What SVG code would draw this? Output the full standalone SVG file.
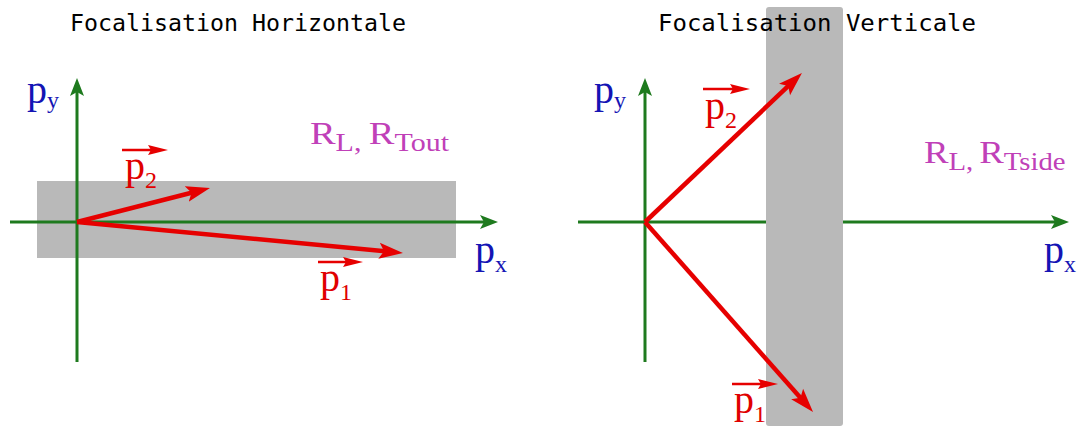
<svg xmlns="http://www.w3.org/2000/svg" width="1081" height="428" viewBox="0 0 1081 428">
  <defs>
    <style>
      .title { font-family: "DejaVu Sans Mono", "Liberation Mono", monospace; font-size: 23px; fill: #000; }
      .band { fill: #b9b9b9; }
      .axis { stroke: #1e7a1e; stroke-width: 3; fill: none; }
      .vec { stroke: #e60000; stroke-width: 4.5; fill: none; }
      .small { stroke: #e60000; stroke-width: 2.5; fill: none; }
      .pl { font-family: "Liberation Serif", "Times New Roman", serif; font-size: 40px; }
      .sub { font-size: 24px; }
      .red { fill: #e00000; }
      .blue { fill: #1414b4; }
      .mag { fill: #c040b8; font-family: "Liberation Serif", "Times New Roman", serif; font-size: 32px; }
      .msub { font-size: 25px; }
    </style>
    <marker id="ag" markerUnits="userSpaceOnUse" markerWidth="20" markerHeight="14" refX="10" refY="7" orient="auto">
      <path d="M0,0 L18,7 L0,14 L4,7 Z" fill="#1e7a1e"/>
    </marker>
    <marker id="ar" markerUnits="userSpaceOnUse" markerWidth="26" markerHeight="18" refX="14" refY="9" orient="auto">
      <path d="M0,1 L24,9 L0,17 L5,9 Z" fill="#e60000"/>
    </marker>
    <marker id="as" markerUnits="userSpaceOnUse" markerWidth="20" markerHeight="12" refX="12" refY="6" orient="auto">
      <path d="M0,1 L20,6 L0,11 L3,6 Z" fill="#e60000"/>
    </marker>
  </defs>

  <!-- Left panel: horizontal focusing -->
  <g id="left-title">
    <text class="title" x="70" y="31" textLength="336" lengthAdjust="spacingAndGlyphs">Focalisation Horizontale</text>
  </g>
  <g id="left-band">
    <rect class="band" x="37" y="181" width="419" height="77"/>
  </g>
  <g id="left-axes">
    <line class="axis" x1="10" y1="222" x2="490" y2="222" marker-end="url(#ag)"/>
    <line class="axis" x1="77" y1="362" x2="77" y2="86" marker-end="url(#ag)"/>
  </g>
  <g id="left-connectors">
    <line class="vec" x1="77" y1="222" x2="200.3" y2="190.5" marker-end="url(#ar)"/>
    <line class="vec" x1="77" y1="222" x2="393" y2="252.1" marker-end="url(#ar)"/>
    <line class="small" x1="122" y1="150" x2="160" y2="150" marker-end="url(#as)"/>
    <line class="small" x1="318" y1="262" x2="355" y2="262" marker-end="url(#as)"/>
  </g>
  <g id="left-labels">
    <text class="pl blue" x="27" y="103">p<tspan class="sub" dy="5">y</tspan></text>
    <text class="pl blue" x="475" y="263">p<tspan class="sub" dy="9">x</tspan></text>
    <text class="pl red" x="125" y="179">p<tspan class="sub" dy="9">2</tspan></text>
    <text class="pl red" x="320" y="291">p<tspan class="sub" dy="9">1</tspan></text>
    <text class="mag" transform="translate(310,144) scale(1.2,1)" x="0" y="0">R<tspan class="msub" dy="7">L,</tspan><tspan x="49" dy="-7">R</tspan><tspan class="msub" dy="7">Tout</tspan></text>
  </g>

  <!-- Right panel: vertical focusing -->
  <g id="right-axes">
    <line class="axis" x1="578" y1="222" x2="1061" y2="222" marker-end="url(#ag)"/>
    <line class="axis" x1="645" y1="362" x2="645" y2="86" marker-end="url(#ag)"/>
  </g>
  <g id="right-band">
    <rect class="band" x="766" y="7" width="77" height="419" rx="3"/>
  </g>
  <g id="right-title">
    <text class="title" x="658" y="31" textLength="318" lengthAdjust="spacingAndGlyphs">Focalisation Verticale</text>
  </g>
  <g id="right-connectors">
    <line class="vec" x1="645" y1="222" x2="794.7" y2="79.9" marker-end="url(#ar)"/>
    <line class="vec" x1="645" y1="222" x2="806.4" y2="404.5" marker-end="url(#ar)"/>
    <line class="small" x1="703" y1="89" x2="742" y2="89" marker-end="url(#as)"/>
    <line class="small" x1="732" y1="384" x2="770" y2="384" marker-end="url(#as)"/>
  </g>
  <g id="right-labels">
    <text class="pl blue" x="594" y="103">p<tspan class="sub" dy="5">y</tspan></text>
    <text class="pl blue" x="1044" y="263">p<tspan class="sub" dy="9">x</tspan></text>
    <text class="pl red" x="705" y="119">p<tspan class="sub" dy="9">2</tspan></text>
    <text class="pl red" x="734" y="413">p<tspan class="sub" dy="9">1</tspan></text>
    <text class="mag" transform="translate(924,163) scale(1.15,1)" x="0" y="0">R<tspan class="msub" dy="7">L,</tspan><tspan x="48" dy="-7">R</tspan><tspan class="msub" dy="7">Tside</tspan></text>
  </g>
</svg>
